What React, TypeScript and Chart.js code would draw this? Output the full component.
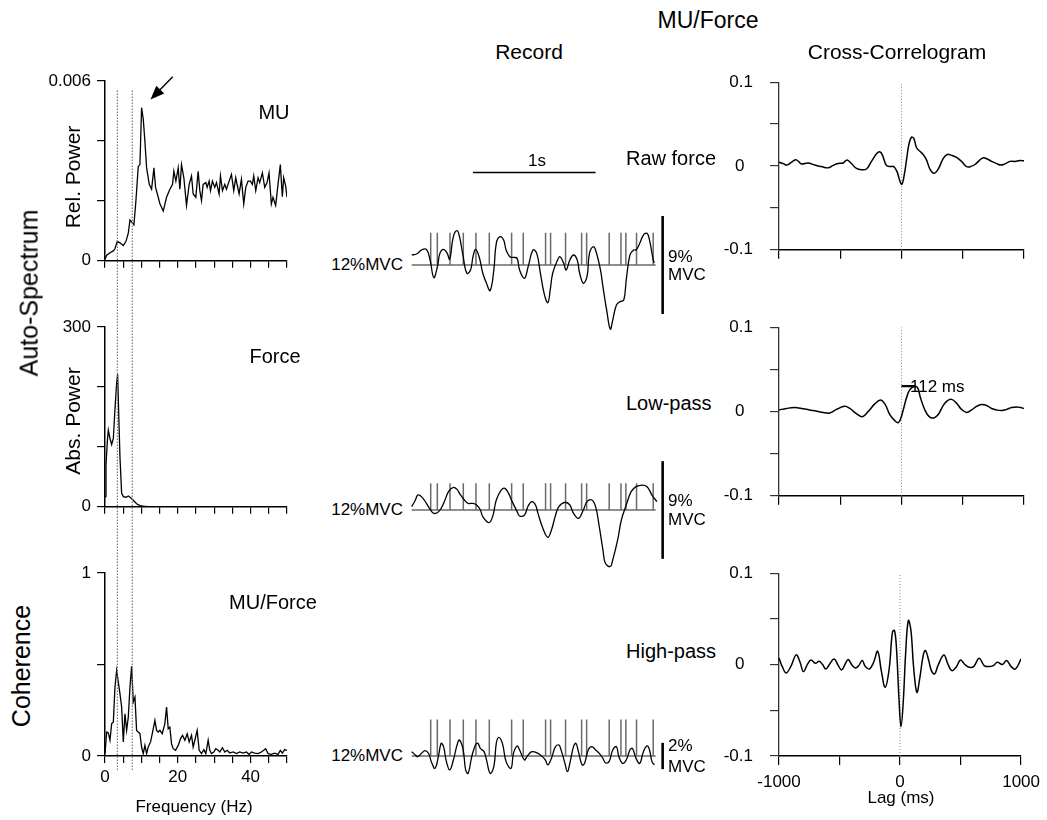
import React, { useEffect, useRef } from 'react';
import { Chart, registerables } from 'chart.js';

Chart.register(...registerables);

const FONT = '"Liberation Sans", Arial, Helvetica, sans-serif';
Chart.defaults.font.family = FONT;
Chart.defaults.color = '#000';

// ---------------- Auto-spectrum: MU (relative power, x 1e-3) ----------------
const muFreq = [0, 0.46, 1.37, 2.29, 2.74, 3.38, 4.11, 5.03, 5.76, 6.4, 6.86, 7.31, 7.95, 8.5, 9.14, 9.6, 10.05, 10.51, 10.97, 11.43, 12.16, 12.8, 13.44, 13.89, 14.63, 15.08, 16.0, 16.91, 17.82, 18.56, 18.92, 19.47, 20.11, 20.57, 21.02, 21.66, 22.39, 23.12, 23.77, 24.22, 24.95, 25.59, 26.05, 26.51, 26.96, 27.7, 28.06, 28.61, 28.98, 29.52, 30.16, 30.62, 31.35, 31.72, 32.27, 32.91, 33.36, 34.1, 34.73, 35.37, 35.92, 36.29, 36.84, 37.48, 38.12, 38.67, 39.31, 39.95, 40.49, 40.86, 41.41, 42.05, 42.5, 43.24, 43.88, 44.52, 45.06, 45.7, 46.16, 46.89, 47.53, 48.17, 48.72, 49.09, 49.63, 50.0];
const muRelPowerE3 = [0.054, 0.185, 0.27, 0.33, 0.4, 0.65, 0.6, 0.51, 0.65, 0.92, 1.36, 1.3, 1.2, 2.01, 3.15, 3.21, 5.11, 4.73, 3.97, 3.1, 2.55, 2.39, 3.1, 2.45, 2.12, 1.9, 1.66, 2.12, 2.39, 2.55, 2.99, 2.66, 3.1, 2.39, 3.21, 2.77, 1.85, 2.55, 2.83, 2.23, 2.12, 2.99, 2.34, 2.01, 2.55, 2.61, 2.45, 2.66, 2.34, 2.66, 2.45, 2.61, 2.23, 2.83, 2.34, 2.55, 2.39, 2.66, 2.88, 2.34, 2.77, 2.55, 2.23, 2.72, 1.9, 2.45, 2.66, 2.66, 2.55, 2.83, 2.34, 2.77, 2.61, 2.93, 2.45, 2.61, 2.93, 1.9, 2.12, 1.85, 2.55, 3.21, 2.14, 2.77, 2.5, 2.12];
const muRelPower = muRelPowerE3.map((v) => v / 1000);

// ---------------- Auto-spectrum: Force (absolute power) ----------------
const forceFreq = [0, 0.27, 0.64, 0.91, 1.37, 1.83, 2.29, 2.74, 3.2, 3.47, 3.75, 4.11, 4.57, 5.03, 5.76, 6.4, 7.04, 7.77, 8.68, 9.6, 10.51, 11.43, 50];
const forceAbsPower = [17, 69, 109, 128, 114, 104, 114, 163, 207, 221, 159, 83, 23, 17, 16, 18, 15, 11, 5, 2, 1, 0.5, 0];

// ---------------- Coherence MU/Force ----------------
const cohFreq = [0, 0.46, 0.91, 1.37, 1.83, 2.29, 2.74, 3.2, 3.66, 4.11, 4.57, 5.03, 5.48, 5.94, 6.4, 6.86, 7.31, 7.77, 8.23, 8.68, 9.14, 9.6, 10.05, 10.51, 10.97, 11.43, 11.88, 12.52, 13.07, 13.71, 14.17, 14.63, 15.08, 15.72, 16.45, 16.91, 17.37, 17.82, 18.28, 18.74, 19.38, 20.11, 20.75, 21.3, 21.94, 22.58, 23.12, 23.77, 24.22, 24.68, 25.32, 25.87, 26.51, 27.15, 27.7, 28.34, 28.79, 29.25, 29.89, 30.44, 31.08, 31.53, 32.27, 32.91, 33.55, 34.28, 35.19, 36.11, 37.02, 37.93, 38.85, 39.58, 40.22, 41.13, 42.05, 42.96, 43.6, 44.15, 44.79, 45.7, 46.62, 47.53, 48.17, 48.72, 49.36, 50.0];
const coherence = [0.013, 0.131, 0.126, 0.086, 0.177, 0.186, 0.377, 0.468, 0.404, 0.341, 0.268, 0.077, 0.231, 0.14, 0.213, 0.377, 0.49, 0.295, 0.322, 0.14, 0.131, 0.122, 0.049, 0.013, 0.058, 0.013, 0.049, 0.077, 0.131, 0.195, 0.14, 0.131, 0.14, 0.122, 0.177, 0.268, 0.149, 0.158, 0.067, 0.04, 0.031, 0.058, 0.095, 0.113, 0.086, 0.122, 0.077, 0.113, 0.049, 0.086, 0.14, 0.031, 0.013, 0.035, 0.013, 0.086, 0.031, 0.013, 0.022, 0.04, 0.031, 0.022, 0.045, 0.022, 0.031, 0.016, 0.022, 0.013, 0.022, 0.016, 0.022, 0.009, 0.022, 0.016, 0.013, 0.022, 0.031, 0.04, 0.013, 0.009, 0.016, 0.009, 0.031, 0.016, 0.035, 0.031];

// dotted tremor-band markers (Hz) and arrow annotation (Hz, rel. power)
const bandMarkersHz = [3.4, 7.5];
const arrowTail = [18.6, 0.00614];
const arrowTip = [12.5, 0.00538];

// ---------------- Records (time s, force change %MVC) ----------------
const spikeTimes = [0.155, 0.209, 0.3125, 0.421, 0.524, 0.633, 0.815, 0.91, 1.092, 1.133, 1.255, 1.386, 1.427, 1.611, 1.707, 1.747, 1.834, 1.97];

const rawT = [0, 0.04, 0.08, 0.12, 0.15, 0.18, 0.21, 0.23, 0.26, 0.29, 0.31, 0.34, 0.37, 0.39, 0.42, 0.45, 0.48, 0.5, 0.52, 0.55, 0.58, 0.61, 0.64, 0.67, 0.69, 0.72, 0.75, 0.77, 0.8, 0.83, 0.86, 0.88, 0.92, 0.95, 0.99, 1.02, 1.05, 1.08, 1.11, 1.13, 1.15, 1.19, 1.21, 1.24, 1.26, 1.29, 1.32, 1.35, 1.37, 1.4, 1.43, 1.45, 1.48, 1.5, 1.54, 1.56, 1.59, 1.62, 1.64, 1.67, 1.7, 1.73, 1.75, 1.78, 1.81, 1.83, 1.86, 1.89, 1.92, 1.94, 1.97, 1.98];
const rawForce = [0.92, 1.01, 1.38, 1.44, 0.46, -1.16, -0.15, 1.07, 1.44, 1.07, 0.52, 2.6, 3.15, 2.6, 0.76, -0.76, -0.46, 0.76, 1.44, 0.76, -0.76, -1.68, -2.35, -0.46, 1.99, 2.6, 2.29, 1.38, 0.76, 0.7, 0.61, -0.46, -1.22, -0.15, 1.38, 1.07, -0.76, -2.6, -3.46, -2.29, -0.76, 0.46, 0.76, 0.15, -0.46, 0.46, 0.92, 0.46, -0.76, -1.68, -1.07, 1.07, 1.68, 1.38, -0.46, -1.99, -4.13, -5.9, -5.05, -3.67, -3.36, -3.21, -1.38, 0.92, 1.38, 1.38, 1.99, 2.75, 2.91, 2.29, 0.46, 0.21];

const lowT = [0, 0.03, 0.05, 0.08, 0.12, 0.15, 0.18, 0.22, 0.26, 0.3, 0.34, 0.37, 0.39, 0.43, 0.46, 0.5, 0.53, 0.56, 0.58, 0.63, 0.66, 0.69, 0.73, 0.76, 0.79, 0.82, 0.86, 0.88, 0.92, 0.95, 0.98, 1.01, 1.03, 1.07, 1.11, 1.14, 1.17, 1.2, 1.25, 1.29, 1.32, 1.36, 1.4, 1.43, 1.47, 1.5, 1.53, 1.56, 1.58, 1.62, 1.64, 1.68, 1.71, 1.75, 1.79, 1.83, 1.88, 1.92, 1.96, 2.0];
const lowForce = [0.31, 0.92, 1.38, 1.23, 0.61, 0.06, -0.31, -0.15, 0.61, 1.69, 2.09, 1.9, 1.53, 0.92, 0.61, 0.61, 0.46, 0, -0.61, -1.17, -0.61, 0.92, 1.84, 2.0, 1.53, 0.77, -0.15, -0.55, -0.46, 0.37, 0.77, 0.46, -0.31, -1.69, -2.52, -1.84, -0.61, 0.31, 0.71, 0.46, -0.31, -0.77, 0, 0.77, 0.92, 0.31, -1.53, -3.68, -4.91, -5.21, -4.6, -2.76, -0.92, 0.46, 1.69, 2.15, 2.3, 2.15, 1.38, 0.77];

const highT = [0, 0.03, 0.05, 0.08, 0.11, 0.14, 0.16, 0.19, 0.22, 0.24, 0.26, 0.28, 0.31, 0.34, 0.37, 0.39, 0.42, 0.44, 0.46, 0.49, 0.52, 0.54, 0.56, 0.59, 0.61, 0.64, 0.67, 0.69, 0.71, 0.74, 0.77, 0.81, 0.83, 0.86, 0.88, 0.92, 0.94, 0.98, 1.03, 1.06, 1.09, 1.11, 1.14, 1.17, 1.2, 1.22, 1.25, 1.27, 1.29, 1.32, 1.34, 1.36, 1.39, 1.41, 1.44, 1.47, 1.5, 1.53, 1.56, 1.58, 1.61, 1.64, 1.67, 1.69, 1.72, 1.75, 1.78, 1.8, 1.83, 1.86, 1.89, 1.92, 1.94, 1.96, 1.98];
const highForce = [0.33, 0.08, -0.05, 0.2, 0.41, 0.15, -0.43, -0.94, 0.08, 0.96, 0.71, -0.3, -1.06, -0.3, 0.84, 1.22, 0.46, -1.06, -1.32, -0.05, 0.84, 0.96, 0.58, 0.33, -0.3, -1.32, -0.81, 0.96, 1.42, 0.96, -0.43, -0.94, 0.2, 0.76, 0.46, -0.3, -0.05, 0.33, 0.2, 0, -0.3, -0.68, -0.18, 0.66, 0.84, 0.41, -0.56, -1.19, -0.56, 0.71, 0.96, 0.33, -0.68, -0.56, 0.46, 0.71, 0.46, 0.2, -0.18, -0.51, -0.43, 0.46, 0.71, -0.05, -0.56, -0.3, 0.46, 0.58, -0.18, -0.56, 0.33, 0.76, 0.46, -0.43, -0.68];

// spike marker heights (%MVC units of each record) and calibration bars
const spikeHeight = { raw: 2.97, low: 2.46, high: 2.78 };
const calibBarT = 2.047;
const calibHalf = { raw: 4.5, low: 4.5, high: 1.0 };
const timeBar = { from: 0.5, to: 1.5, level: 8.5 };

// ---------------- Cross-correlograms (lag ms) ----------------
const lagRaw = [-1000, -967, -935, -899, -858, -818, -763, -708, -654, -599, -559, -518, -477, -444, -409, -368, -327, -286, -245, -204, -177, -155, -123, -90, -63, -35, -14, 3, 22, 41, 60, 82, 101, 123, 150, 177, 204, 232, 264, 300, 341, 373, 409, 450, 490, 531, 564, 600, 635, 668, 700, 736, 777, 809, 845, 886, 926, 967, 1000];
const ccRaw = [0.0044, 0.0029, 0.0011, 0.0044, 0.0073, 0.0025, 0.0036, 0.0011, -0.0007, -0.0022, 0.0007, 0.0029, 0.0036, 0.0073, 0.0029, -0.0029, -0.0044, -0.0036, 0.0055, 0.0145, 0.0171, 0.0127, 0.0007, -0.0007, -0.0007, -0.0073, -0.0175, -0.0218, -0.0109, 0.0073, 0.0255, 0.0345, 0.0327, 0.0218, 0.0175, 0.0138, 0.0073, -0.0036, -0.0087, -0.0036, 0.0091, 0.0138, 0.0127, 0.0102, 0.0055, -0.0007, -0.0007, 0.0018, 0.0065, 0.0098, 0.0084, 0.0055, 0.0029, 0.0011, 0.0025, 0.0055, 0.0055, 0.0065, 0.0062];

const lagLow = [-1000, -940, -872, -804, -722, -640, -586, -531, -463, -422, -368, -319, -272, -218, -172, -136, -95, -55, -27, -8, 14, 41, 68, 112, 135, 155, 191, 226, 264, 300, 341, 373, 409, 450, 490, 531, 572, 613, 654, 695, 736, 777, 818, 858, 899, 940, 973, 1000];
const ccLow = [0.0018, 0.0036, 0.0047, 0.0032, 0.0011, -0.0011, -0.0018, 0.0025, 0.0061, 0.0036, -0.0025, -0.0061, 0, 0.009, 0.0137, 0.009, -0.0036, -0.0108, -0.0134, -0.009, 0.0018, 0.0162, 0.026, 0.03, 0.0271, 0.0162, 0.0018, -0.0061, -0.0076, -0.0036, 0.0072, 0.0126, 0.0144, 0.0097, 0.0025, -0.0011, 0.0018, 0.0061, 0.0083, 0.0072, 0.0036, 0.0018, 0.0011, 0.0025, 0.0047, 0.0054, 0.0047, 0.0036];
const peakLagMs = 112;
const peakLevel = 0.03;

const lagHigh = [-1000, -973, -940, -899, -858, -826, -798, -763, -736, -700, -668, -640, -613, -581, -545, -510, -482, -450, -428, -395, -368, -341, -313, -286, -253, -218, -185, -155, -123, -90, -63, -46, -30, -8, 8, 27, 46, 68, 90, 112, 139, 164, 191, 210, 237, 259, 286, 313, 362, 395, 428, 463, 499, 531, 572, 608, 654, 695, 736, 771, 804, 845, 880, 918, 954, 1000];
const ccHigh = [0.0073, -0.0022, -0.0091, -0.0011, 0.0106, 0.0026, -0.0077, 0.0007, 0.0051, 0.0015, 0.0037, 0, -0.0048, 0.0007, 0.0062, -0.0011, -0.0059, 0.0015, 0.0055, -0.0011, -0.0037, -0.0011, 0.0044, -0.0022, -0.0048, 0.0026, 0.0146, -0.0066, -0.0249, -0.0048, 0.0354, 0.0373, 0.019, -0.0395, -0.068, -0.0395, 0.0117, 0.0482, 0.0373, -0.0029, -0.0303, -0.0139, 0.0099, 0.0154, 0.0044, -0.0066, -0.0102, -0.0011, 0.0106, 0.0007, -0.0066, -0.0029, 0.0051, 0.0007, -0.0029, -0.0022, 0.007, -0.0011, -0.0022, -0.0011, 0.0026, 0, 0.0044, -0.0022, -0.0048, 0.0062];

// tick labels
const freqTickLabels: [number, string][] = [[0, '0'], [20, '20'], [40, '40']];
const lagTickLabels: [number, string][] = [[-1000, '-1000'], [0, '0'], [1000, '1000']];
const ccYLabels: [number, string][] = [[-0.1, '-0.1'], [0, '0\u2002'], [0.1, '0.1']];

// ------------------------------------------------------------------
type Pt = { x: number; y: number | null };
const zip = (xs: number[], ys: number[]): Pt[] =>
  xs.slice(0, Math.min(xs.length, ys.length)).map((x, i) => ({ x, y: ys[i] }));

const line = (data: Pt[], extra: any = {}) => ({
  data,
  borderColor: '#000',
  borderWidth: 1.3,
  pointRadius: 0,
  tension: 0,
  fill: false,
  ...extra,
});

const labelCb = (labels: [number, string][]) => (v: any) => {
  const n = Number(v);
  const hit = labels.find(([l]) => Math.abs(l - n) < 1e-9);
  return hit ? hit[1] : '';
};

const spikes = (h: number): Pt[] =>
  spikeTimes.flatMap((t) => [
    { x: t, y: 0 },
    { x: t, y: h },
    { x: t, y: null },
  ]);

type AxisOpts = {
  min: number;
  max: number;
  step: number;
  labels: [number, string][];
  size: number;
  tickLen: number;
  pad: number;
  color?: string;
  width?: number;
};

const axis = (dir: 'x' | 'y', o: AxisOpts) => ({
  type: 'linear',
  position: dir === 'x' ? 'bottom' : 'left',
  min: o.min,
  max: o.max,
  afterFit: (s: any) => {
    if (dir === 'x') s.height = o.size;
    else s.width = o.size;
  },
  border: { display: true, color: o.color ?? '#000', width: o.width ?? 1.5 },
  grid: {
    display: true,
    drawOnChartArea: false,
    drawTicks: true,
    tickLength: o.tickLen,
    color: o.color ?? '#000',
    lineWidth: 1.2,
  },
  ticks: {
    stepSize: o.step,
    autoSkip: false,
    maxRotation: 0,
    minRotation: 0,
    padding: o.pad,
    color: '#000',
    font: { family: FONT, size: 17 },
    callback: labelCb(o.labels),
  },
});

const baseOptions = (padding: any, scales: any) => ({
  animation: false,
  responsive: false,
  maintainAspectRatio: false,
  events: [],
  layout: { padding, autoPadding: false },
  plugins: { legend: { display: false }, tooltip: { enabled: false }, title: { display: false } },
  elements: { point: { radius: 0 } },
  scales,
});

const arrowPlugin = {
  id: 'muArrow',
  afterDatasetsDraw(chart: any) {
    const { ctx } = chart;
    const xs = chart.scales.x;
    const ys = chart.scales.y;
    const x0 = xs.getPixelForValue(arrowTail[0]);
    const y0 = ys.getPixelForValue(arrowTail[1]);
    const x1 = xs.getPixelForValue(arrowTip[0]);
    const y1 = ys.getPixelForValue(arrowTip[1]);
    const a = Math.atan2(y1 - y0, x1 - x0);
    const L = 14;
    const W = 5.5;
    ctx.save();
    ctx.strokeStyle = '#000';
    ctx.fillStyle = '#000';
    ctx.lineWidth = 1.4;
    ctx.beginPath();
    ctx.moveTo(x0, y0);
    ctx.lineTo(x1 - L * 0.8 * Math.cos(a), y1 - L * 0.8 * Math.sin(a));
    ctx.stroke();
    ctx.beginPath();
    ctx.moveTo(x1, y1);
    ctx.lineTo(x1 - L * Math.cos(a) + W * Math.sin(a), y1 - L * Math.sin(a) - W * Math.cos(a));
    ctx.lineTo(x1 - L * Math.cos(a) - W * Math.sin(a), y1 - L * Math.sin(a) + W * Math.cos(a));
    ctx.closePath();
    ctx.fill();
    ctx.restore();
  },
};

// ---------------- chart configs ----------------
const LEFT_PAD = { left: 0, right: 23, bottom: 0 };
const RIGHT_PAD = { left: 0, right: 23, bottom: 0 };

const freqAxis = (labels: [number, string][], size: number) =>
  axis('x', { min: 0, max: 50, step: 5, labels, size, tickLen: 7, pad: 4 });

const spectrumConfig = (data: Pt[], yMin: number, yMax: number, yStep: number, yLabels: [number, string][], top: number, xLabels: [number, string][], xSize: number, plugins: any[] = []) => ({
  type: 'line',
  data: { datasets: [line(data, { borderWidth: 1.3 })] },
  options: baseOptions(
    { ...LEFT_PAD, top },
    {
      x: freqAxis(xLabels, xSize),
      y: axis('y', { min: yMin, max: yMax, step: yStep, labels: yLabels, size: 65, tickLen: 8, pad: 6 }),
    }
  ),
  plugins,
});

const ccConfig = (lag: number[], cc: number[], top: number, xLabels: [number, string][], xSize: number, extra: any[] = []) => ({
  type: 'line',
  data: {
    datasets: [
      line(zip(lag, cc), { borderWidth: 1.5, tension: 0.4 }),
      ...extra,
      line([{ x: 0, y: -0.1 }, { x: 0, y: 0.1 }], { borderColor: '#888', borderWidth: 1, borderDash: [1, 2] }),
    ],
  },
  options: baseOptions(
    { ...RIGHT_PAD, top },
    {
      x: axis('x', { min: -1000, max: 1000, step: 500, labels: xLabels, size: xSize, tickLen: 9, pad: 7 }),
      y: axis('y', { min: -0.1, max: 0.1, step: 0.05, labels: ccYLabels, size: 59, tickLen: 9, pad: 17, color: '#333', width: 1.3 }),
    }
  ),
});

const recordConfig = (t: number[], f: number[], spikeH: number, calib: number, yMin: number, yMax: number, extra: any[] = []) => ({
  type: 'line',
  data: {
    datasets: [
      line(zip(t, f), { borderWidth: 1.3, tension: 0.4 }),
      line([{ x: calibBarT, y: -calib }, { x: calibBarT, y: calib }], { borderWidth: 2.6 }),
      ...extra,
      line([{ x: 0, y: 0 }, { x: 1.99, y: 0 }], { borderColor: '#6a6a6a', borderWidth: 1.6 }),
      line(spikes(spikeH), { borderColor: '#6a6a6a', borderWidth: 1.5 }),
    ],
  },
  options: baseOptions(0, {
    x: { type: 'linear', display: false, min: -0.0547, max: 2.107 },
    y: { type: 'linear', display: false, min: yMin, max: yMax },
  }),
});

const bandOverlayConfig = () => ({
  type: 'line',
  data: {
    datasets: bandMarkersHz.map((f) =>
      line([{ x: f, y: 0 }, { x: f, y: 1 }], { borderColor: '#777', borderWidth: 1.2, borderDash: [1.5, 1.5] })
    ),
  },
  options: baseOptions({ left: 65, right: 23, top: 5, bottom: 5 }, {
    x: { type: 'linear', display: false, min: 0, max: 50 },
    y: { type: 'linear', display: false, min: 0, max: 1 },
  }),
});

// ---------------- components ----------------
function ChartCanvas({ rect, make }: { rect: [number, number, number, number]; make: () => any }) {
  const ref = useRef<HTMLCanvasElement>(null);
  useEffect(() => {
    const chart = new Chart(ref.current as HTMLCanvasElement, make());
    return () => chart.destroy();
  }, []);
  const [l, t, w, h] = rect;
  return (
    <canvas
      ref={ref}
      width={w}
      height={h}
      style={{ position: 'absolute', left: l, top: t, width: w, height: h }}
    />
  );
}

function Txt({ x, y, size, children, anchor = 'center', rotate = false }: any) {
  let transform = 'translate(-50%,-50%)';
  if (anchor === 'left') transform = 'translate(0,-50%)';
  if (anchor === 'right') transform = 'translate(-100%,-50%)';
  if (rotate) transform = 'translate(-50%,-50%) rotate(-90deg)';
  return (
    <div
      style={{
        position: 'absolute',
        left: x,
        top: y,
        transform,
        fontFamily: FONT,
        fontSize: size,
        lineHeight: 1.15,
        whiteSpace: 'nowrap',
        color: '#000',
        zIndex: 5,
      }}
    >
      {children}
    </div>
  );
}

export default function App() {
  return (
    <div style={{ position: 'absolute', left: 0, top: 0, width: 1047, height: 820, background: '#fff', overflow: 'hidden' }}>
      {/* Left column: spectra */}
      <ChartCanvas
        rect={[40, 55, 270, 222]}
        make={() =>
          spectrumConfig(zip(muFreq, muRelPower), 0, 0.006, 0.002, [[0, '0'], [0.006, '0.006']], 26, [], 12, [arrowPlugin])
        }
      />
      <ChartCanvas
        rect={[40, 300, 270, 223]}
        make={() => spectrumConfig(zip(forceFreq, forceAbsPower), 0, 300, 100, [[0, '0'], [300, '300']], 27, [], 12)}
      />
      <ChartCanvas
        rect={[40, 546, 270, 252]}
        make={() => spectrumConfig(zip(cohFreq, coherence), 0, 1, 0.5, [[0, '0'], [1, '1']], 27, freqTickLabels, 42)}
      />
      <ChartCanvas rect={[40, 85, 270, 690]} make={bandOverlayConfig} />

      {/* Middle column: records */}
      <ChartCanvas
        rect={[405, 160, 265, 175]}
        make={() =>
          recordConfig(rawT, rawForce, spikeHeight.raw, calibHalf.raw, -6.428, 9.642, [
            line([{ x: timeBar.from, y: timeBar.level }, { x: timeBar.to, y: timeBar.level }], { borderWidth: 1.6 }),
          ])
        }
      />
      <ChartCanvas
        rect={[405, 450, 265, 120]}
        make={() => recordConfig(lowT, lowForce, spikeHeight.low, calibHalf.low, -5.53, 5.53)}
      />
      <ChartCanvas
        rect={[405, 715, 265, 75]}
        make={() => recordConfig(highT, highForce, spikeHeight.high, calibHalf.high, -2.582, 3.113)}
      />

      {/* Right column: cross-correlograms */}
      <ChartCanvas rect={[720, 55, 327, 222]} make={() => ccConfig(lagRaw, ccRaw, 27, [], 12)} />
      <ChartCanvas
        rect={[720, 300, 327, 223]}
        make={() =>
          ccConfig(lagLow, ccLow, 26, [], 12, [
            line([{ x: 0, y: peakLevel }, { x: peakLagMs, y: peakLevel }], { borderWidth: 2.2 }),
          ])
        }
      />
      <ChartCanvas rect={[720, 546, 327, 252]} make={() => ccConfig(lagHigh, ccHigh, 27, lagTickLabels, 42)} />

      {/* Text */}
      <Txt x={708} y={20} size={23}>MU/Force</Txt>
      <Txt x={529} y={52} size={21}>Record</Txt>
      <Txt x={897} y={52} size={21}>Cross-Correlogram</Txt>

      <Txt x={29} y={293} size={25} rotate>Auto-Spectrum</Txt>
      <Txt x={21} y={666} size={25} rotate>Coherence</Txt>
      <Txt x={73} y={177} size={21} rotate>Rel. Power</Txt>
      <Txt x={73} y={421} size={21} rotate>Abs. Power</Txt>

      <Txt x={274} y={112} size={20}>MU</Txt>
      <Txt x={275} y={356} size={20}>Force</Txt>
      <Txt x={273} y={602} size={20}>MU/Force</Txt>
      <Txt x={194} y={807} size={17}>Frequency (Hz)</Txt>

      <Txt x={537} y={161} size={17}>1s</Txt>
      <Txt x={626} y={158} size={20} anchor="left">Raw force</Txt>
      <Txt x={626} y={403} size={20} anchor="left">Low-pass</Txt>
      <Txt x={626} y={651} size={20} anchor="left">High-pass</Txt>

      <Txt x={403} y={265} size={17} anchor="right">12%MVC</Txt>
      <Txt x={403} y={510} size={17} anchor="right">12%MVC</Txt>
      <Txt x={403} y={756} size={17} anchor="right">12%MVC</Txt>

      <Txt x={668} y={257} size={17} anchor="left">9%</Txt>
      <Txt x={668} y={275} size={17} anchor="left">MVC</Txt>
      <Txt x={668} y={501} size={17} anchor="left">9%</Txt>
      <Txt x={668} y={520} size={17} anchor="left">MVC</Txt>
      <Txt x={668} y={746} size={17} anchor="left">2%</Txt>
      <Txt x={668} y={767} size={17} anchor="left">MVC</Txt>

      <Txt x={910} y={387} size={17} anchor="left">112 ms</Txt>
      <Txt x={901} y={798} size={17}>Lag (ms)</Txt>
    </div>
  );
}
